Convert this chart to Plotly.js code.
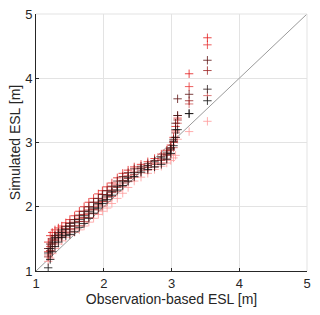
<!DOCTYPE html>
<html><head><meta charset="utf-8">
<script src="https://cdn.plot.ly/plotly-3.0.1.min.js"></script>
<style>html,body{margin:0;padding:0;background:#fff}#c{width:320px;height:315px}</style>
</head><body><div id="c"></div>
<script>
var obsX = [1.18,1.21,1.24,1.28,1.33,1.38,1.44,1.5,1.57,1.64,1.71,1.78,1.85,1.92,1.98,2.05,2.12,2.2,2.28,2.36,2.45,2.55,2.65,2.75,2.85,2.93,2.99,3.03,3.06,3.09,3.26,3.53];
var simBlack   = [1.05,1.18,1.3,1.38,1.45,1.52,1.55,1.57,1.61,1.68,1.74,1.82,1.9,1.98,2.05,2.11,2.18,2.26,2.33,2.4,2.47,2.54,2.58,2.62,2.66,2.74,2.83,2.95,3.08,3.2,3.45,3.65];
var simBlack2  = [1.28,1.35,1.45,1.52,1.56,1.6,1.65,1.7,1.75,1.8,1.86,1.93,1.98,2.05,2.1,2.17,2.24,2.32,2.4,2.46,2.53,2.6,2.64,2.7,2.76,2.82,2.9,3.02,3.2,3.42,3.45,3.83];
var simDark    = [1.35,1.42,1.5,1.55,1.6,1.64,1.69,1.74,1.8,1.87,1.93,2.0,2.07,2.13,2.19,2.25,2.32,2.4,2.47,2.53,2.59,2.63,2.67,2.72,2.78,2.85,2.92,3.05,3.3,3.68,3.75,4.28];
var simDarkRed = [1.22,1.32,1.42,1.48,1.52,1.56,1.6,1.65,1.7,1.77,1.83,1.9,1.96,2.03,2.08,2.15,2.22,2.3,2.37,2.44,2.5,2.57,2.61,2.66,2.72,2.8,2.88,3.0,3.15,3.35,3.65,4.12];
var simRed     = [1.45,1.55,1.6,1.64,1.67,1.7,1.75,1.8,1.86,1.93,2.0,2.07,2.13,2.2,2.25,2.31,2.37,2.45,2.52,2.57,2.62,2.66,2.7,2.75,2.82,2.88,2.96,3.08,3.25,3.42,4.07,4.63];
var simRed2    = [1.3,1.38,1.48,1.55,1.58,1.62,1.66,1.7,1.76,1.82,1.88,1.95,2.0,2.07,2.12,2.19,2.26,2.34,2.41,2.48,2.54,2.6,2.64,2.68,2.74,2.82,2.9,3.02,3.18,3.38,3.87,4.52];
var simMid     = [1.25,1.3,1.38,1.44,1.5,1.54,1.58,1.62,1.66,1.71,1.77,1.83,1.89,1.95,2.01,2.08,2.16,2.24,2.32,2.39,2.46,2.53,2.57,2.62,2.68,2.74,2.82,2.92,3.08,3.3,3.6,3.73];
var simPink    = [1.15,1.2,1.27,1.35,1.42,1.47,1.52,1.56,1.6,1.64,1.7,1.76,1.82,1.88,1.93,1.98,2.05,2.13,2.21,2.3,2.4,2.46,2.52,2.58,2.63,2.68,2.72,2.76,2.8,3.05,3.17,3.33];
var refLine = [1,5];
var ticks = [1,2,3,4,5];

var series = [
  [simPink,'#ff9a9a'],[simMid,'#d05a5a'],[simRed2,'#e83535'],[simRed,'#e41a1a'],
  [simDarkRed,'#9b2222'],[simDark,'#5c1414'],[simBlack2,'#2b1a1a'],[simBlack,'#111111']
];
var data = [{x:refLine,y:refLine,mode:'lines',line:{color:'#9a9a9a',width:1},hoverinfo:'skip',showlegend:false}];
series.forEach(function(s){
  data.push({x:obsX,y:s[0],mode:'markers',showlegend:false,
    marker:{symbol:'cross-thin-open',size:6,opacity:0.8,color:s[1],line:{color:s[1],width:1}}});
});
var fnt = 'Liberation Sans, Arial, sans-serif';
var ax = {range:[1,5],tickvals:ticks,ticktext:ticks.map(String),showgrid:true,gridcolor:'#e3e3e3',gridwidth:1,
  zeroline:false,showline:true,linecolor:'#262626',linewidth:1,ticks:'inside',ticklen:3,tickcolor:'#262626',
  tickfont:{family:fnt,size:13,color:'#262626'}};
var layout = {
  width:320,height:315,margin:{l:36,r:13,t:14,b:44},paper_bgcolor:'#fff',plot_bgcolor:'#fff',
  xaxis:Object.assign({},ax,{title:{text:'Observation-based ESL [m]',standoff:3,font:{family:fnt,size:14,color:'#262626'}}}),
  yaxis:Object.assign({},ax,{title:{text:'Simulated ESL [m]',standoff:1,font:{family:fnt,size:14,color:'#262626'}}}),
  shapes:[{type:'line',xref:'paper',yref:'paper',x0:0,x1:1,y0:1,y1:1,line:{color:'#e3e3e3',width:1}},
          {type:'line',xref:'paper',yref:'paper',x0:1,x1:1,y0:0,y1:1,line:{color:'#e3e3e3',width:1}}]
};
Plotly.newPlot('c',data,layout,{displayModeBar:false,staticPlot:true});
</script></body></html>
